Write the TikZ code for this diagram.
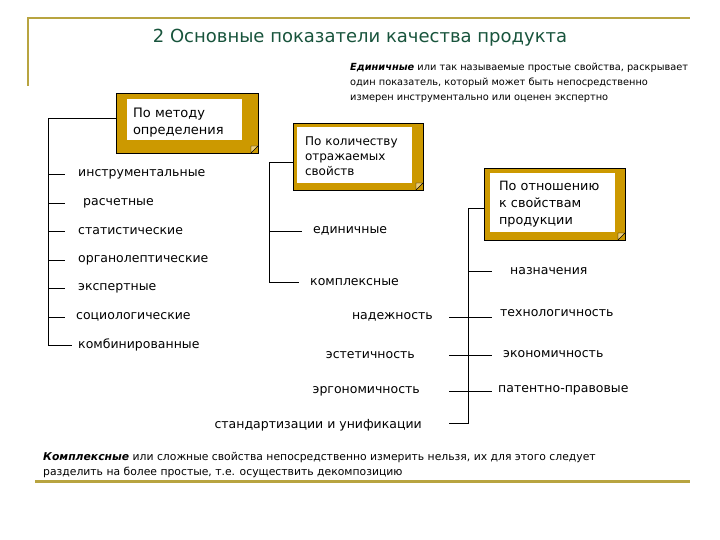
\documentclass[tikz,border=0pt]{standalone}
\usepackage{fontspec}
\setmainfont{DejaVu Sans}
\usetikzlibrary{positioning}

\definecolor{boxgold}{RGB}{204,153,0}
\definecolor{foldgold}{RGB}{238,206,120}
\definecolor{frameolive}{RGB}{184,164,64}
\definecolor{titlegreen}{RGB}{24,84,60}

\begin{document}
\begin{tikzpicture}[x=1pt, y=-1pt,
  catbox/.style n args={4}{draw=black, fill=boxgold, line width=.7pt, align=left,
    inner ysep=0pt,
    path picture={
      \fill[white] ([xshift=#1pt,yshift=-#2pt]path picture bounding box.north west)
        rectangle ([xshift=-#3pt,yshift=#4pt]path picture bounding box.south east);
      \filldraw[fill=foldgold, draw=black, line width=.4pt]
        ([xshift=-7pt]path picture bounding box.south east)
        -- ([xshift=-7pt,yshift=7pt]path picture bounding box.south east)
        -- ([yshift=7pt]path picture bounding box.south east) -- cycle;
    }},
  leaf/.style={inner sep=2pt, font=\fontsize{12.5}{14}\selectfont},
  note/.style={anchor=north west, align=left, inner sep=2pt},
  frame/.style={frameolive, line width=2pt}
  ]
  \useasboundingbox (0,0) rectangle (720,540);
  \draw[frame] (28,86) -- (28,18) -- (690,18);
  \draw[frame, line width=3pt] (35,481) -- (690,481);

  \node[font=\fontsize{18}{20}\selectfont, text=titlegreen] (title) at (360,38)
    {2 Основные показатели качества продукта};
  \node[note, font=\fontsize{9.8}{15}\selectfont] (edinnote) at (348,61)
    {\textbf{\textit{Единичные}} или так называемые простые свойства, раскрывает\\
     один показатель, который может быть непосредственно\\
     измерен инструментально или оценен экспертно};
  \node[note, font=\fontsize{10.8}{15}\selectfont] (komplnote) at (41,450)
    {\textbf{\textit{Комплексные}} или сложные свойства непосредственно измерить нельзя, их для этого следует\\
     разделить на более простые, т.е. осуществить декомпозицию};

  \node[catbox={11}{6}{16}{13}, minimum width=142pt, minimum height=60pt, text width=108pt,
    font=\fontsize{13}{17}\selectfont] (metod) at (187,123) {По методу\\определения};
  \node[catbox={4}{4}{11}{7}, minimum width=130pt, minimum height=67pt, text width=106pt,
    font=\fontsize{12}{15}\selectfont] (kolich) at (358,156.5) {По количеству\\отражаемых\\свойств};
  \node[catbox={6}{5}{10}{8}, minimum width=141pt, minimum height=72pt, text width=111pt,
    font=\fontsize{12.8}{17}\selectfont] (otnosh) at (554.5,204) {По отношению\\к свойствам\\продукции};

  \node[leaf, anchor=west] (instr) at (76,174) {инструментальные};
  \node[leaf, anchor=west] (rasch) at (81,203) {расчетные};
  \node[leaf, anchor=west] (stat) at (76,231) {статистические};
  \node[leaf, anchor=west] (organ) at (76,260) {органолептические};
  \node[leaf, anchor=west] (expert) at (76,288) {экспертные};
  \node[leaf, anchor=west] (socio) at (74,317) {социологические};
  \node[leaf, anchor=west] (kombi) at (76,345) {комбинированные};

  \node[leaf, anchor=west] (edinich) at (311,231) {единичные};
  \node[leaf, anchor=west] (komplex) at (308,282) {комплексные};

  \node[leaf, anchor=west] (naznach) at (508,271) {назначения};
  \node[leaf, anchor=east] (nadezh) at (435,317) {надежность};
  \node[leaf, anchor=east] (estet) at (417,355) {эстетичность};
  \node[leaf, anchor=east] (ergon) at (422,391) {эргономичность};
  \node[leaf, anchor=east] (standart) at (424,425) {стандартизации и унификации};
  \node[leaf, anchor=west] (tehnol) at (498,313) {технологичность};
  \node[leaf, anchor=west] (ekonom) at (501,354) {экономичность};
  \node[leaf, anchor=west] (patent) at (496,390) {патентно-правовые};

  \coordinate (lbot) at (48,345);
  \coordinate (ltick) at (65,0);
  \coordinate (mbot) at (269,282);
  \coordinate (rbot) at (468,423);
  \coordinate (rl) at (449,0);
  \coordinate (rr) at (492,0);

  \draw ([yshift=5pt]metod.west) -| (lbot) -- ([xshift=-4pt]kombi.west);
  \foreach \n in {instr,rasch,stat,organ,expert,socio}
    \draw (lbot |- \n.west) -- (ltick |- \n.west);

  \draw ([yshift=-6pt]kolich.west) -| (mbot) -- ([xshift=-9pt]komplex.west);
  \draw (mbot |- edinich.west) -- ([xshift=-9pt]edinich.west);

  \draw ([yshift=-4pt]otnosh.west) -| (rbot) -- (rl |- rbot);
  \draw (rbot |- naznach.west) -- (rr |- naznach.west);
  \foreach \n in {nadezh,estet,ergon}
    \draw (rl |- \n.east) -- (rr |- \n.east);
\end{tikzpicture}
\end{document}
